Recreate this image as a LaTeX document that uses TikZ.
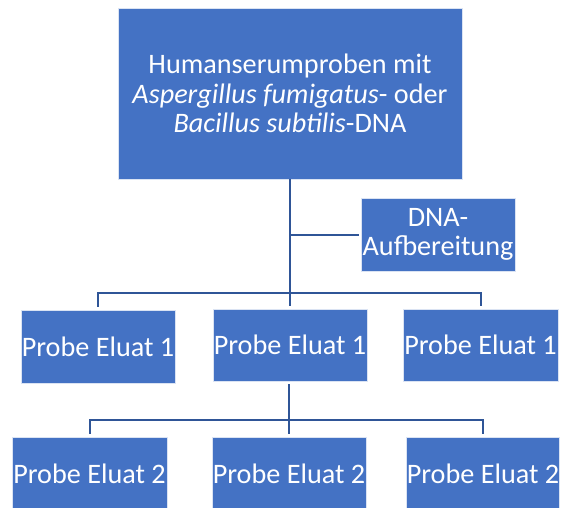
\documentclass[tikz,border=0pt]{standalone}
\usepackage{fontspec}
\setmainfont{Carlito}
\definecolor{boxblue}{HTML}{4472C4}
\definecolor{lineblue}{HTML}{2F5597}
\begin{document}
\begin{tikzpicture}[x=1pt,y=-1pt,
  box/.style={fill=boxblue,draw=white!80!boxblue,line width=0.8pt,text=white,
    inner sep=0pt,align=center,font=\fontsize{28.2}{29.5}\selectfont},
  conn/.style={draw=lineblue,line width=2pt},
  trunk/.style={draw=lineblue,line width=2.6pt}]
\clip (0,0) rectangle (565,508);
\fill[white] (0,0) rectangle (565,508);
\node[box,minimum width=344pt,minimum height=171pt] (top) at (290,93.5)
  {Humanserumproben mit\\\textit{Aspergillus fumigatus}- oder\\\textit{Bacillus subtilis}-DNA};
\node[box,minimum width=154pt,minimum height=73pt] (dna) at (438,234.5) {DNA-\\Aufbereitung};
\node[box,minimum width=154pt,minimum height=73pt] (l1a) at (98,346.5) {Probe Eluat 1};
\node[box,minimum width=154pt,minimum height=72pt] (l1b) at (290,345) {Probe Eluat 1};
\node[box,minimum width=155pt,minimum height=72pt] (l1c) at (480.5,345) {Probe Eluat 1};
\node[box,minimum width=155pt,minimum height=73pt] (l2a) at (89.5,473.5) {Probe Eluat 2};
\node[box,minimum width=154pt,minimum height=73pt] (l2b) at (289,473.5) {Probe Eluat 2};
\node[box,minimum width=150pt,minimum height=73pt] (l2c) at (483,473.5) {Probe Eluat 2};
\coordinate (bus1) at (290,293);
\coordinate (bus2) at (289,420);
\draw[trunk,shorten >=3pt] (top.south) -- (l1b.north);
\draw[conn] (top.south |- dna.west) -- ([xshift=-2pt]dna.west);
\draw[conn,shorten <=3pt,shorten >=3pt] (l1a.north) |- (bus1) -| (l1c.north);
\draw[trunk,shorten <=3pt,shorten >=3pt] (l2b.north |- l1b.south) -- (l2b.north);
\draw[conn,shorten <=3pt,shorten >=3pt] (l2a.north) |- (bus2) -| (l2c.north);
\end{tikzpicture}
\end{document}
